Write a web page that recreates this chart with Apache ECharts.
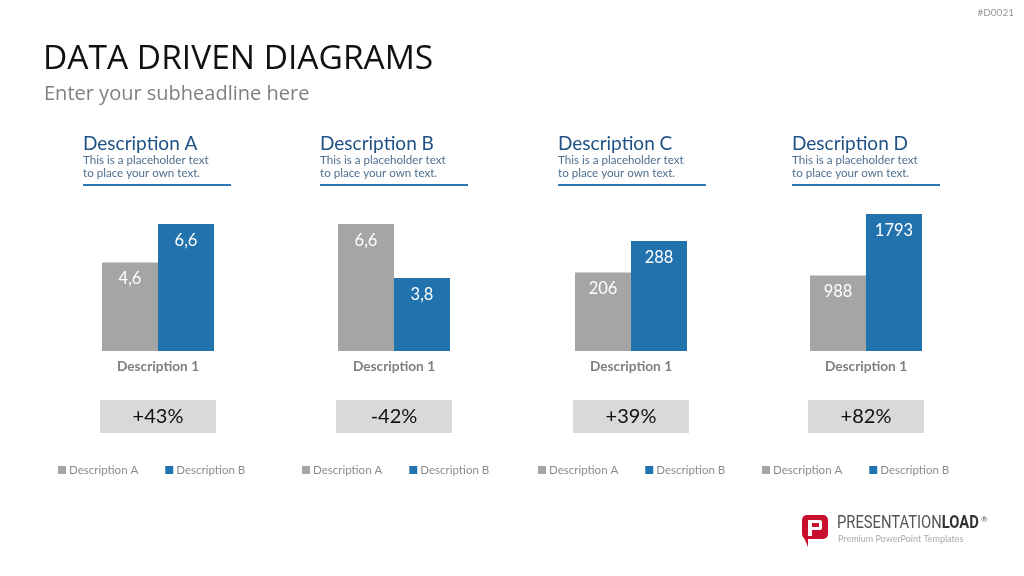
<!DOCTYPE html>
<html>
<head>
<meta charset="utf-8">
<script src="https://cdn.jsdelivr.net/npm/echarts@6/dist/echarts.min.js"></script>
<style>
  html, body { margin: 0; padding: 0; background: #fff; }
  #chart { width: 1024px; height: 576px; }
</style>
</head>
<body>
<div id="chart"></div>
<script>
// data
const panelTitles = ["Description A", "Description B", "Description C", "Description D"];
const category = ["Description 1"];
const seriesNames = ["Description A", "Description B"];
const valuesA = [4.6, 6.6, 206, 988];
const valuesB = [6.6, 3.8, 288, 1793];
const changeLabels = ["+43%", "-42%", "+39%", "+82%"];
const axisMax = [7.12, 7.12, 359, 1793];

const FONT = "Lato, 'Open Sans', sans-serif";
const HEAD_FONT = "'Open Sans', sans-serif";
const GREY = "#a5a5a5";
const BLUE = "#2272ae";

const chart = echarts.init(document.getElementById("chart"));

const panelLeft = [100, 336, 573, 808]; // grid left of each small chart
const headLeft = [83, 320, 558, 792];
const legendLeft = [58, 302, 538, 762];

const grids = [], xAxes = [], yAxes = [], series = [], legends = [], graphics = [];

const fmt = (p) => String(p.value).replace(".", ",");

panelLeft.forEach((left, i) => {
    grids.push({ left: left, width: 116, top: 214, height: 137 });
    xAxes.push({
        type: "category", gridIndex: i, data: category,
        axisLine: { show: false }, axisTick: { show: false },
        axisLabel: { color: "#7f7f7f", fontWeight: "bold", fontSize: 13.7, fontFamily: FONT, margin: 9 }
    });
    yAxes.push({ type: "value", gridIndex: i, min: 0, max: axisMax[i], show: false, splitLine: { show: false } });

    [valuesA, valuesB].forEach((vals, k) => {
        series.push({
            name: seriesNames[k], type: "bar", xAxisIndex: i, yAxisIndex: i,
            data: [vals[i]], barWidth: 56, barGap: "0%",
            itemStyle: { color: k === 0 ? GREY : BLUE },
            label: {
                show: true, position: "insideTop", distance: 8,
                color: "#fff", fontSize: 16.5, fontFamily: FONT, formatter: fmt
            },
            silent: true
        });
    });

    legends.push({
        data: seriesNames, left: legendLeft[i], top: 464, icon: "rect", padding: 0,
        itemWidth: 8, itemHeight: 8, itemGap: 27,
        textStyle: { color: "#8c8c8c", fontSize: 11.5, fontFamily: FONT, padding: [0, 0, 0, -2] }
    });

    // panel header
    const hx = headLeft[i];
    graphics.push(
        { type: "text", left: hx, top: 134, style: { text: panelTitles[i], fill: "#1e5184", font: "19px " + FONT } },
        { type: "text", left: hx, top: 154, style: { text: "This is a placeholder text\nto place your own text.", fill: "#4f6f8f", font: "11.6px " + FONT, lineHeight: 13 } },
        { type: "rect", shape: { x: hx, y: 184, width: 148, height: 2 }, style: { fill: "#2e75b6" } }
    );

    // change box
    graphics.push({
        type: "rect", shape: { x: left, y: 400, width: 116, height: 33 }, style: { fill: "#d9d9d9" }
    }, {
        type: "text", x: left + 58, y: 417,
        style: { text: changeLabels[i], fill: "#111", font: "20px " + FONT, align: "center", verticalAlign: "middle" }
    });
});

// page header
graphics.push(
    { type: "text", left: 43, top: 42, style: { text: "DATA DRIVEN DIAGRAMS", fill: "#111", font: "33.5px " + HEAD_FONT } },
    { type: "text", left: 44, top: 84, style: { text: "Enter your subheadline here", fill: "#808080", font: "20px " + HEAD_FONT } },
    { type: "text", right: 10, top: 8, style: { text: "#D0021", fill: "#999", font: "10px " + FONT } }
);

// logo
graphics.push(
    { type: "rect", shape: { x: 802, y: 515, width: 26, height: 24, r: 5 }, style: { fill: "#c8102e" } },
    { type: "polygon", shape: { points: [[802, 533], [808, 539], [808, 547]] }, style: { fill: "#c8102e" } },
    { type: "rect", shape: { x: 808, y: 520, width: 14, height: 10, r: 2 }, style: { fill: "#fff" } },
    { type: "rect", shape: { x: 808, y: 520, width: 4, height: 16 }, style: { fill: "#fff" } },
    { type: "rect", shape: { x: 812, y: 523, width: 7, height: 4 }, style: { fill: "#c8102e" } },
    {
        type: "text", x: 837, y: 514, scaleX: 0.82,
        style: {
            text: "PRESENTATION{b|LOAD}", fill: "#555", font: "18px Roboto, sans-serif",
            rich: { b: { fill: "#333", fontWeight: "bold", fontSize: 18, fontFamily: "Roboto, sans-serif" } }
        }
    },
    { type: "text", left: 981, top: 515, style: { text: "®", fill: "#555", font: "8px " + FONT } },
    { type: "text", left: 838, top: 535, style: { text: "Premium PowerPoint Templates", fill: "#aaa", font: "9px " + FONT } }
);

chart.setOption({
    animation: false,
    grid: grids,
    xAxis: xAxes,
    yAxis: yAxes,
    legend: legends,
    series: series,
    graphic: graphics
});
</script>
</body>
</html>
